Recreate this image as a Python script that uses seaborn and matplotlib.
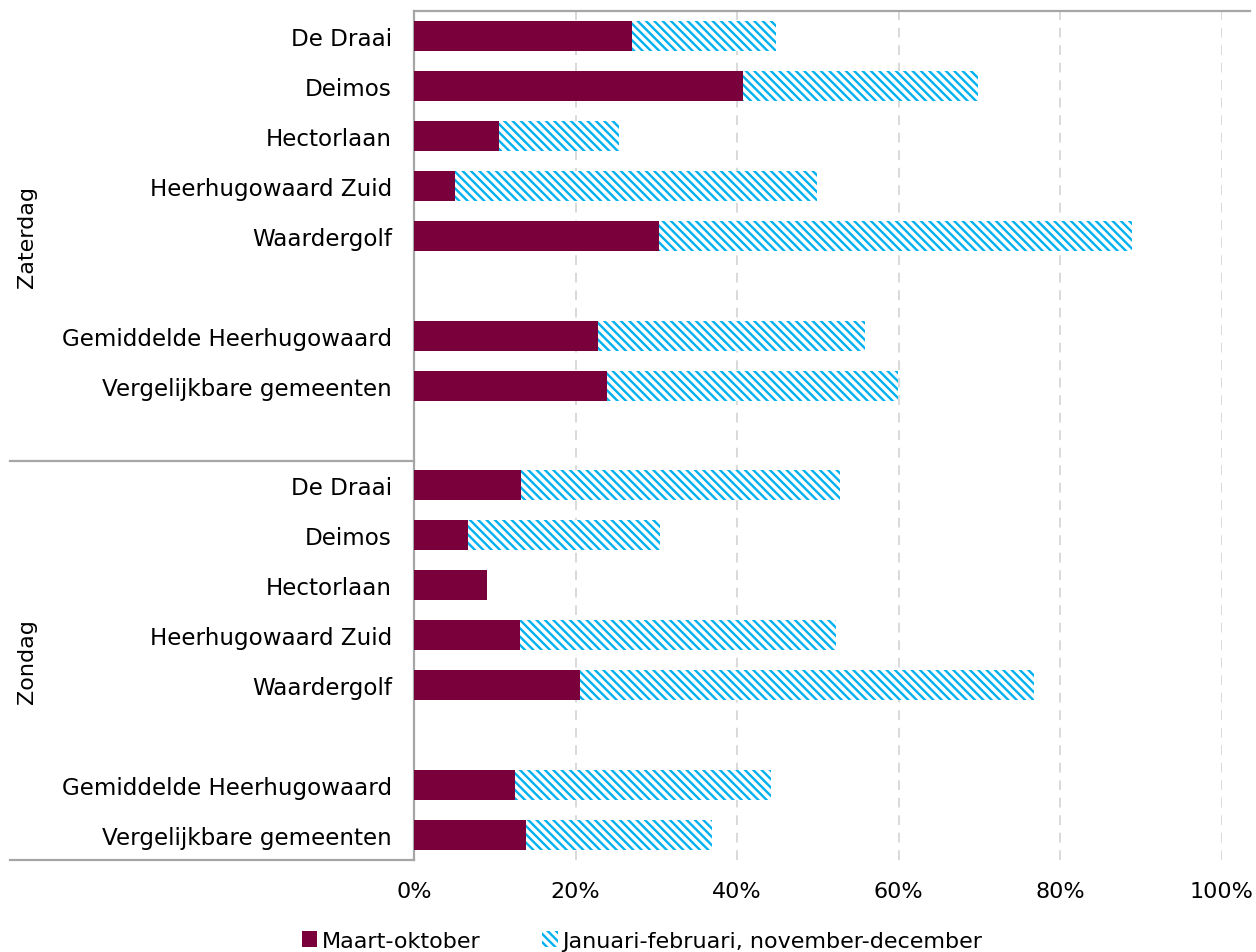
import matplotlib.pyplot as plt
import matplotlib.lines as mlines
import matplotlib.patches as mpatches
import pandas as pd
import seaborn as sns

# data (percent)
groups = ["Zaterdag"] * 7 + ["Zondag"] * 7
locations = [
    "De Draai", "Deimos", "Hectorlaan", "Heerhugowaard Zuid", "Waardergolf",
    "Gemiddelde Heerhugowaard", "Vergelijkbare gemeenten",
] * 2
maart_oktober = [27.0, 40.7, 10.5, 5.1, 30.3, 22.8, 23.9,
                 13.2, 6.7, 9.0, 13.1, 20.5, 12.5, 13.9]
winter = [17.8, 29.1, 14.9, 44.8, 58.6, 33.0, 36.0,
          39.5, 23.7, 0.0, 39.1, 56.2, 31.7, 23.0]

DARK = "#7A003C"
BLUE = "#00B0F0"
FS = 16
HATCH = "\\\\\\\\"


def main():
    df = pd.DataFrame({"group": groups, "location": locations,
                       "maart": maart_oktober, "winter": winter})
    df["key"] = df["group"] + "|" + df["location"]
    df["total"] = df["maart"] + df["winter"]

    # slot order incl. empty rows between blocks
    sat = df[df.group == "Zaterdag"]["key"].tolist()
    sun = df[df.group == "Zondag"]["key"].tolist()
    order = sat[:5] + ["gap1"] + sat[5:] + ["gap2"] + sun[:5] + ["gap3"] + sun[5:]
    labels = ["" if k.startswith("gap") else k.split("|")[1] for k in order]

    plt.rcParams["font.family"] = ["DejaVu Sans"]
    plt.rcParams["hatch.linewidth"] = 1.7

    fig = plt.figure(figsize=(12.56, 9.53), dpi=100)
    ax = fig.add_axes([414 / 1256, 1 - 861 / 953, (1222 - 414) / 1256, (861 - 12) / 953])

    sns.barplot(df, x="total", y="key", order=order, orient="h", color="white",
                saturation=1, hatch=HATCH, edgecolor=BLUE, linewidth=0, width=0.6,
                errorbar=None, ax=ax, zorder=2)
    sns.barplot(df, x="maart", y="key", order=order, orient="h", color=DARK,
                saturation=1, edgecolor="none", linewidth=0, width=0.6,
                errorbar=None, ax=ax, zorder=3)

    ax.set_xlim(0, 100)
    ax.set_ylim(len(order) - 0.5, -0.5)
    ax.set_xticks([0, 20, 40, 60, 80, 100])
    ax.set_xticklabels([f"{v}%" for v in [0, 20, 40, 60, 80, 100]], fontsize=FS)
    ax.set_yticks(range(len(order)))
    ax.set_yticklabels(labels, fontsize=16.6)
    ax.tick_params(axis="y", length=0, pad=16)
    ax.tick_params(axis="x", length=0, pad=15)
    ax.set_xlabel("")
    ax.set_ylabel("")
    ax.grid(axis="x", color="#D9D9D9", linestyle=(0, (5, 4)), linewidth=1.4, zorder=0)
    ax.set_axisbelow(True)
    for s in ["top", "right", "bottom"]:
        ax.spines[s].set_visible(False)
    ax.spines["left"].set_color("#A6A6A6")
    ax.spines["left"].set_linewidth(1.6)

    # frame lines: top border and group separators on the category axis
    fig.add_artist(mlines.Line2D([414 / 1256, 1250 / 1256], [1 - 12 / 953] * 2,
                                 color="#A6A6A6", linewidth=1.6))
    for ypx in [462, 861]:
        fig.add_artist(mlines.Line2D([10 / 1256, 414 / 1256], [1 - ypx / 953] * 2,
                                     color="#A6A6A6", linewidth=1.6))

    fig.text(27 / 1256, 1 - 237 / 953, "Zaterdag", rotation=90, ha="center",
             va="center", fontsize=FS)
    fig.text(27 / 1256, 1 - 662 / 953, "Zondag", rotation=90, ha="center",
             va="center", fontsize=FS)

    handles = [
        mpatches.Patch(facecolor=DARK, edgecolor="none", label="Maart-oktober"),
        mpatches.Patch(facecolor="white", hatch=HATCH, edgecolor=BLUE, linewidth=0,
                       label="Januari-februari, november-december"),
    ]
    fig.legend(handles=handles, loc="center", bbox_to_anchor=(642 / 1256, 1 - 942 / 953),
               ncol=2, frameon=False, fontsize=FS, handlelength=0.7,
               handleheight=0.7, handletextpad=0.2, columnspacing=2.8)

    fig.savefig("out.png", dpi=100)


if __name__ == "__main__":
    main()
